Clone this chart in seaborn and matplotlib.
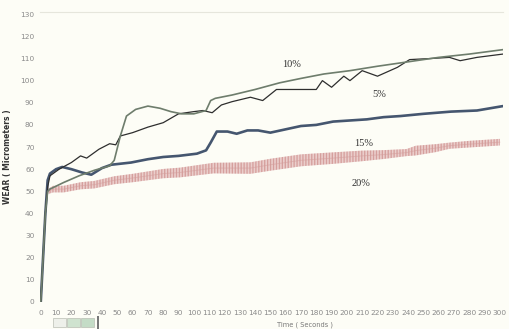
import matplotlib
matplotlib.use("Agg")
import matplotlib.pyplot as plt
import seaborn as sns
import pandas as pd
import numpy as np
from matplotlib.patches import Rectangle

# ---- data ----
t10 = [0, 1.5, 3, 4.5, 6, 15, 25, 35, 45, 48, 52, 56, 62, 70, 78, 85, 92, 100, 108, 111, 114, 125, 140, 156, 170, 185, 202, 220, 240, 260, 280, 302]
v10 = [0, 20, 40, 50, 51, 54, 57, 59.5, 61.5, 64, 75, 84, 87, 88.5, 87.5, 86, 85, 85, 86.5, 91, 92, 93.5, 96, 99, 101, 103, 104.5, 106.5, 108.5, 110.5, 112, 114]

t5 = [0, 1.5, 3, 4.5, 6, 12, 20, 26, 30, 38, 45, 49, 52, 60, 70, 80, 90, 100, 106, 112, 118, 125, 137, 145, 154, 165, 180, 184, 190, 198, 202, 210, 220, 233, 241, 255, 267, 274, 285, 302]
v5 = [0, 20, 40, 52, 57, 60, 63, 66, 65, 69, 71.5, 71, 75, 76.5, 79, 81, 85, 86, 86.5, 85.5, 89, 90.5, 92.5, 91, 96, 96, 96, 100, 97, 102, 100, 104.5, 102, 106, 109.5, 110, 110.5, 109, 110.5, 112]

t15 = [0, 1.5, 3, 4.5, 6, 10, 14, 20, 27, 33, 40, 46, 59, 70, 80, 90, 102, 108, 111, 115, 122, 128, 135, 142, 150, 160, 170, 180, 191, 202, 213, 224, 235, 250, 268, 285, 302]
v15 = [0, 20, 40, 55, 58, 60, 61, 60, 58.5, 57.5, 60.5, 62, 63, 64.5, 65.5, 66, 67, 68.5, 72, 77, 77, 76, 77.5, 77.5, 76.5, 78, 79.5, 80, 81.5, 82, 82.5, 83.5, 84, 85, 86, 86.5, 88.5]

t20 = [0, 1.5, 3, 4, 5, 8, 15, 26, 35, 48, 60, 70, 80, 91, 102, 113, 125, 137, 150, 170, 191, 210, 224, 239, 245, 258, 267, 280, 300]
v20 = [0, 20, 40, 54, 50, 51, 51, 52.5, 53, 55, 56, 57, 58, 58.5, 59.5, 60.5, 60.5, 60.5, 62, 64, 65, 66, 66.6, 67.5, 68.4, 69.5, 70.6, 71.3, 72.2]
a20 = [0, 0, 0, 0.5, 1.2, 1.5, 1.5, 1.6, 1.7, 1.8, 1.9, 2.0, 2.1, 2.2, 2.3, 2.4, 2.5, 2.6, 2.7, 2.7, 2.6, 2.4, 2.0, 1.6, 2.2, 1.8, 1.4, 1.5, 1.5]

labels = ["10%", "5%", "15%", "20%"]
label_pos = [(164, 107.5), (221, 93.6), (211, 71.5), (209, 53.5)]

x_ticks = list(range(0, 301, 10))
y_ticks = list(range(0, 131, 10))

# ---- figure ----
sns.set_style("white")
plt.rcParams["font.family"] = ["DejaVu Sans"]
plt.rcParams["hatch.linewidth"] = 0.6

bg = "#fdfdf6"
fig = plt.figure(figsize=(5.09, 3.29), dpi=100, facecolor=bg)
ax = fig.add_axes([40/509, 27/329, 463/509, 290/329])
ax.set_facecolor(bg)

df10 = pd.DataFrame({"t": t10, "v": v10})
df5 = pd.DataFrame({"t": t5, "v": v5})
df15 = pd.DataFrame({"t": t15, "v": v15})
df20 = pd.DataFrame({"t": t20, "v": v20, "a": a20})

# 20% band of oscillations
lo = np.array(v20) - np.array(a20)
hi = np.array(v20) + np.array(a20)
ax.fill_between(t20, lo, hi, facecolor="#f8ecea", edgecolor="none", linewidth=0)
ax.fill_between(t20, lo, hi, facecolor="none", edgecolor="#cf918e", hatch="|" * 11, linewidth=0)
sns.lineplot(data=df20, x="t", y="v", ax=ax, color="#d49c9a", lw=0.7, alpha=0.5)

sns.lineplot(data=df15, x="t", y="v", ax=ax, color="#45566f", lw=1.9)
sns.lineplot(data=df5, x="t", y="v", ax=ax, color="#2e2e2e", lw=0.9)
sns.lineplot(data=df10, x="t", y="v", ax=ax, color="#6e7d6c", lw=1.2)

for lab, (x, y) in zip(labels, label_pos):
    ax.text(x, y, lab, fontsize=7.5, family="Liberation Serif", color="#333333", ha="center", va="center")

ax.set_xlim(-0.5, 302)
ax.set_ylim(0.5, 131)
ax.set_xticks(x_ticks)
ax.set_yticks(y_ticks)
ax.tick_params(axis="both", labelsize=5.3, colors="#8a8a8a", length=2.5, width=0.6, pad=1.5, direction="out")
ax.tick_params(axis="x", pad=3)
for s in ["left", "bottom", "right"]:
    ax.spines[s].set_visible(False)
ax.spines["top"].set_color("#e6e6dc")
ax.spines["top"].set_linewidth(0.8)

ax.set_xlabel("Time ( Seconds )", fontsize=4.8, color="#777777")
ax.xaxis.set_label_coords((305 - 40) / 463, -(321 - 302) / 290)
ax.set_ylabel("WEAR ( Micrometers )", fontsize=5.5, fontweight="bold", color="#333333", labelpad=6)

# small graph-palette buttons bottom left
fig.patches.append(Rectangle((53/509, 2/329), 13/509, 9/329, transform=fig.transFigure, facecolor="#eef0ea", edgecolor="#b9bdb4", lw=0.5))
fig.patches.append(Rectangle((67/509, 2/329), 13/509, 9/329, transform=fig.transFigure, facecolor="#cfe3cf", edgecolor="#b9bdb4", lw=0.5))
fig.patches.append(Rectangle((81/509, 2/329), 13/509, 9/329, transform=fig.transFigure, facecolor="#c4dcc6", edgecolor="#b9bdb4", lw=0.5))
fig.patches.append(Rectangle((97/509, 0/329), 1.5/509, 13/329, transform=fig.transFigure, facecolor="#777777", edgecolor="none"))

fig.savefig("out.png", dpi=100, facecolor=bg)
